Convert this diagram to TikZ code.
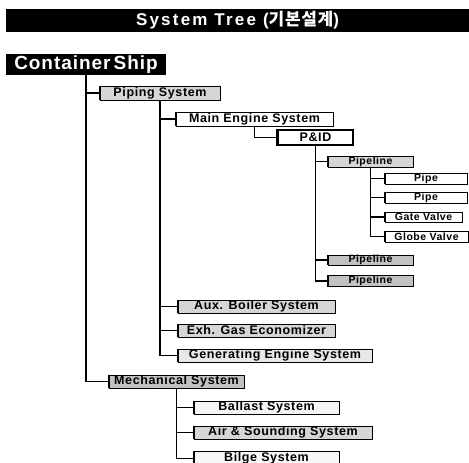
\documentclass[tikz,border=0pt]{standalone}
\usepackage{fontspec}
\setmainfont{Liberation Sans}[LetterSpace=5]
\newfontfamily\titlefont{Liberation Sans}[LetterSpace=13]
\newfontfamily\krfont{Noto Sans CJK KR}[LetterSpace=4]
\begin{document}
\begin{tikzpicture}[x=1pt,y=-1pt,
  box/.style={draw=black, line width=0.9pt, rectangle, inner sep=0pt,
    font=\fontsize{12.5}{13}\selectfont\bfseries,
    append after command={(\tikzlastnode.north west) edge[line width=1.8pt] (\tikzlastnode.south west)}},
  boxwh/.style n args={2}{box, minimum width=#1pt, minimum height=#2pt},
  small/.style={font=\fontsize{10.5}{11}\selectfont\bfseries},
  link/.style={line width=1.8pt, black},
  lite/.style={fill=gray!18},
  mid/.style={fill=gray!32},
  dark/.style={fill=gray!48}]
\useasboundingbox (0,0) rectangle (469,463);

% header bar and root
\node[fill=black, text=white, minimum width=463pt, minimum height=23pt, inner sep=0pt,
  font=\fontsize{17}{19}\selectfont\titlefont\bfseries] (title) at (237.5,20.5)
  {System Tree ({\krfont\bfseries 기본설계})};
\node[fill=black, text=white, minimum width=160pt, minimum height=21pt, inner sep=0pt,
  font=\fontsize{19}{21}\selectfont\bfseries] (cship) at (86,64.5) {Container\,Ship};

% second level
\node[boxwh={120}{14}, mid] (piping) at (160,93) {Piping System};
\node[boxwh={135}{13}, dark] (mech) at (176.5,381.5) {Mechanical System};

% piping systems
\node[boxwh={157}{14}, fill=white] (main) at (254.5,119) {Main Engine System};
\node[boxwh={157}{13}, mid] (aux) at (256.5,306.5) {Aux. Boiler System};
\node[boxwh={157}{13}, mid] (exh) at (256.5,330.5) {Exh. Gas Economizer};
\node[boxwh={194}{13}, lite] (gen) at (275,355.5) {Generating Engine System};

% P&ID and pipelines
\node[boxwh={75}{15}, fill=white, line width=1.6pt] (pid) at (315.5,137.5) {P\&ID};
\node[boxwh={85}{11}, mid, small] (pl1) at (370.5,161.5) {Pipeline};
\node[boxwh={85}{10}, dark, small] (pl2) at (370.5,260) {Pipeline};
\node[boxwh={85}{11}, dark, small] (pl3) at (370.5,281) {Pipeline};

% pipeline components
\node[boxwh={82}{11}, fill=white, small] (pipea) at (426,178.5) {Pipe};
\node[boxwh={82}{11}, fill=white, small] (pipeb) at (426,197.5) {Pipe};
\node[boxwh={77}{10}, fill=white, small] (gate) at (423.5,217) {Gate Valve};
\node[boxwh={83}{11}, fill=white, small] (globe) at (426.5,236.5) {Globe Valve};

% mechanical systems
\node[boxwh={145}{13}, fill=gray!8] (ballast) at (266.5,407.5) {Ballast System};
\node[boxwh={178}{13}, mid] (air) at (283,432.5) {Air \& Sounding System};
\node[boxwh={145}{15}, fill=gray!6] (bilge) at (266.5,458.5) {Bilge System};

% connectors
\draw[link] (cship.south) |- (piping.west);
\draw[link] (cship.south) |- (mech.west);
\draw[link] (piping.south) |- (main.west);
\draw[link] (piping.south) |- (aux.west);
\draw[link] (piping.south) |- (exh.west);
\draw[link] (piping.south) |- (gen.west);
\draw[link] (main.south) |- (pid.west);
\draw[link] (pid.south) |- (pl1.west);
\draw[link] (pid.south) |- (pl2.west);
\draw[link] (pid.south) |- (pl3.west);
\draw[link] (pl1.south) |- (pipea.west);
\draw[link] (pl1.south) |- (pipeb.west);
\draw[link] (pl1.south) |- (gate.west);
\draw[link] (pl1.south) |- (globe.west);
\draw[link] (mech.south) |- (ballast.west);
\draw[link] (mech.south) |- (air.west);
\draw[link] (mech.south) |- (bilge.west);
\end{tikzpicture}
\end{document}
